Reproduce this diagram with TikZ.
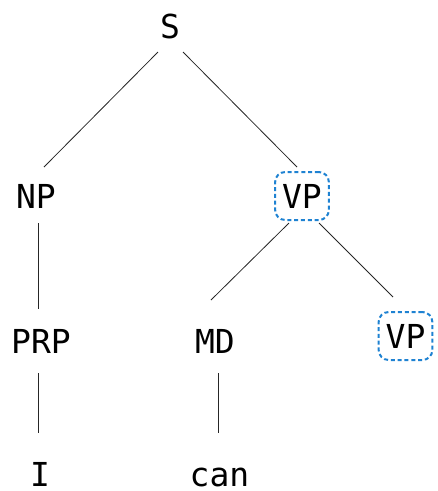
\documentclass[tikz,border=0pt]{standalone}
\usepackage{fontspec}
\setmonofont{DejaVu Sans Mono}
\usetikzlibrary{calc}
\definecolor{boxblue}{RGB}{30,130,210}
\begin{document}
\begin{tikzpicture}[x=1pt,y=-1pt,
  lbl/.style={anchor=base,inner sep=0pt,font=\ttfamily\fontsize{33}{40}\selectfont},
  boxed/.style={lbl,draw=boxblue,line width=2pt,dash pattern=on 4pt off 2.8pt,rounded corners=10pt,
     text height=24pt,text depth=0pt,inner xsep=7pt,inner ysep=12pt},
  edge/.style={draw=black!85,line width=0.8pt}]
\useasboundingbox (0,0) rectangle (438,491);
\node[lbl] (S) at (170,38) {S};
\node[lbl] (NP) at (36,208) {NP};
\node[boxed] (VP) at (302,208) {VP};
\node[lbl] (PRP) at (41,353) {PRP};
\node[lbl] (MD) at (215,353) {MD};
\node[boxed] (VPb) at (405.5,348) {VP};
\node[lbl] (I) at (40,486) {I};
\node[lbl] (can) at (219.5,486) {can};
\draw[edge] ($(S.base)+(-12,14)$) -- ($(NP.base)+(8,-41)$);
\draw[edge] ($(S.base)+(13,14)$) -- ($(VP.base)+(-5,-41)$);
\draw[edge] ($(NP.base)+(2,15)$) -- ($(PRP.base)+(-3,-44)$);
\draw[edge] ($(VP.base)+(-13,15)$) -- ($(MD.base)+(-4,-53)$);
\draw[edge] ($(VP.base)+(17,15)$) -- ($(VPb.base)+(-12.5,-51)$);
\draw[edge] ($(PRP.base)+(-3,20)$) -- ($(I.base)+(-2,-53)$);
\draw[edge] ($(MD.base)+(3,20)$) -- ($(can.base)+(-1.5,-53)$);
\end{tikzpicture}
\end{document}
